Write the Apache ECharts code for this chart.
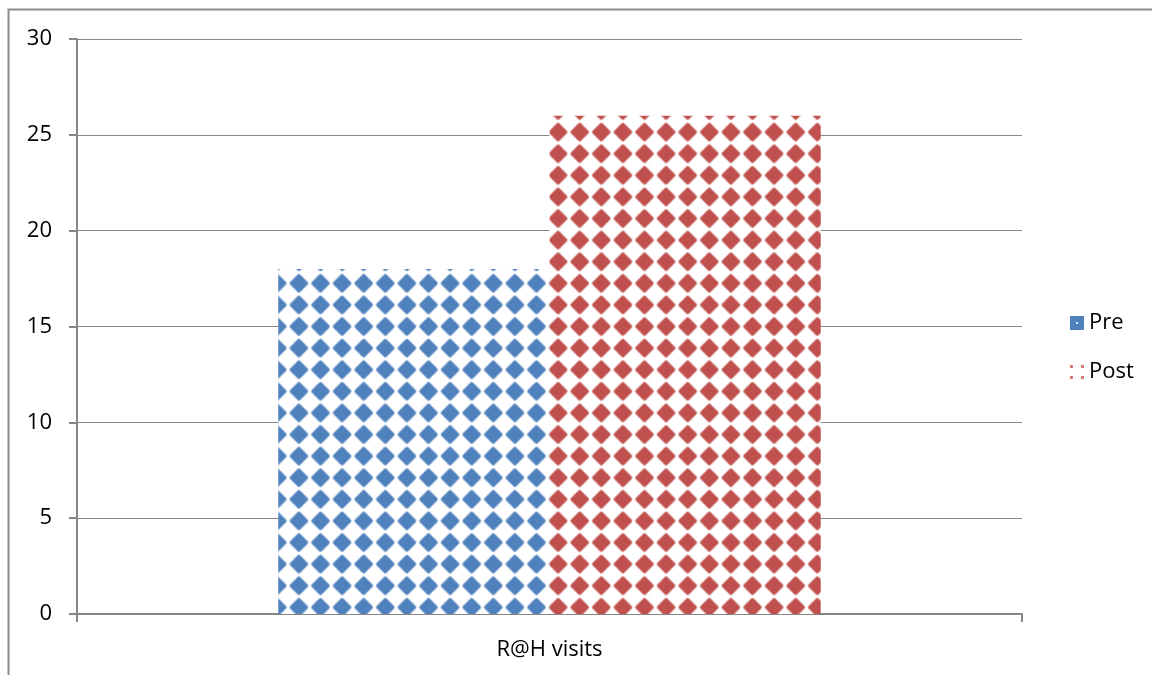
<!DOCTYPE html>
<html>
<head>
<meta charset="utf-8">
<script src="https://cdn.jsdelivr.net/npm/echarts@6/dist/echarts.min.js"></script>
<style>
html,body{margin:0;padding:0;background:#fff;}
#chart{width:1152px;height:675px;}
</style>
</head>
<body>
<div id="chart"></div>
<script>
const categories = ['R@H visits'];
const seriesNames = ['Pre', 'Post'];
const preValues = [18];
const postValues = [26];
const yTicks = [0, 5, 10, 15, 20, 25, 30];

const colors = { Pre: '#4F81BD', Post: '#C0504D' };

function diamondTile(color) {
  const s = 40;
  const c = document.createElement('canvas');
  c.width = s; c.height = s;
  const ctx = c.getContext('2d');
  ctx.fillStyle = '#ffffff';
  ctx.fillRect(0, 0, s, s);
  ctx.filter = 'blur(1.2px)';
  ctx.fillStyle = color;
  ctx.save();
  ctx.translate(s / 2, s / 2);
  ctx.rotate(Math.PI / 4);
  const h = 13;
  const r = 3.5;
  ctx.beginPath();
  ctx.moveTo(-h + r, -h);
  ctx.lineTo(h - r, -h);
  ctx.quadraticCurveTo(h, -h, h, -h + r);
  ctx.lineTo(h, h - r);
  ctx.quadraticCurveTo(h, h, h - r, h);
  ctx.lineTo(-h + r, h);
  ctx.quadraticCurveTo(-h, h, -h, h - r);
  ctx.lineTo(-h, -h + r);
  ctx.quadraticCurveTo(-h, -h, -h + r, -h);
  ctx.closePath();
  ctx.fill();
  ctx.restore();
  return c;
}

function pattern(color) {
  return {
    image: diamondTile(color),
    repeat: 'repeat',
    x: 7.3,
    y: -8.3,
    scaleX: 0.54,
    scaleY: 0.54
  };
}

function iconPre() {
  const c = document.createElement('canvas');
  c.width = 14; c.height = 14;
  const ctx = c.getContext('2d');
  ctx.fillStyle = colors.Pre;
  ctx.fillRect(0, 0, 14, 14);
  ctx.fillStyle = '#dfe8f4';
  ctx.fillRect(6, 6, 2, 2);
  return 'image://' + c.toDataURL();
}
function iconPost() {
  const c = document.createElement('canvas');
  c.width = 14; c.height = 14;
  const ctx = c.getContext('2d');
  ctx.fillStyle = '#ffffff';
  ctx.fillRect(0, 0, 14, 14);
  ctx.fillStyle = 'rgba(192,80,77,0.75)';
  ctx.fillRect(0, 0, 3, 3);
  ctx.fillRect(11, 0, 3, 3);
  ctx.fillRect(0, 11, 3, 3);
  ctx.fillRect(11, 11, 3, 3);
  return 'image://' + c.toDataURL();
}

const chart = echarts.init(document.getElementById('chart'), null, { renderer: 'canvas' });
const font = "'Open Sans', 'DejaVu Sans', sans-serif";
const axisGray = '#868686';

chart.setOption({
  animation: false,
  backgroundColor: '#ffffff',
  textStyle: { fontFamily: font },
  graphic: [{
    type: 'rect',
    shape: { x: 8.5, y: 9.5, width: 3000, height: 3000 },
    style: { fill: 'none', stroke: '#8c8c8c', lineWidth: 2 },
    silent: true,
    z: -1
  }],
  grid: { left: 77, right: 130, top: 39, bottom: 61, containLabel: false },
  legend: {
    orient: 'vertical',
    left: 1065,
    top: 307,
    itemWidth: 14,
    itemHeight: 14,
    itemGap: 27,
    textStyle: { fontFamily: font, fontSize: 22, color: '#000' },
    data: [
      { name: 'Pre', icon: iconPre() },
      { name: 'Post', icon: iconPost() }
    ]
  },
  xAxis: {
    type: 'category',
    data: categories,
    boundaryGap: true,
    axisLine: { show: true, lineStyle: { color: axisGray, width: 2 } },
    axisTick: { show: true, length: 8, lineStyle: { color: axisGray, width: 2 } },
    axisLabel: { color: '#000', fontSize: 22, fontFamily: font, margin: 25 }
  },
  yAxis: {
    type: 'value',
    min: yTicks[0],
    max: yTicks[yTicks.length - 1],
    interval: yTicks[1] - yTicks[0],
    axisLine: { show: true, lineStyle: { color: axisGray, width: 2 } },
    axisTick: { show: true, length: 8, lineStyle: { color: axisGray, width: 2 } },
    axisLabel: { color: '#000', fontSize: 22, fontFamily: font, margin: 25 },
    splitLine: { show: true, lineStyle: { color: axisGray, width: 1 } }
  },
  series: [
    {
      name: seriesNames[0],
      type: 'bar',
      data: preValues,
      barGap: '0%',
      barCategoryGap: '42.6%',
      itemStyle: { color: pattern(colors.Pre) }
    },
    {
      name: seriesNames[1],
      type: 'bar',
      data: postValues,
      barGap: '0%',
      barCategoryGap: '42.6%',
      itemStyle: { color: pattern(colors.Post) }
    }
  ]
});
</script>
</body>
</html>
